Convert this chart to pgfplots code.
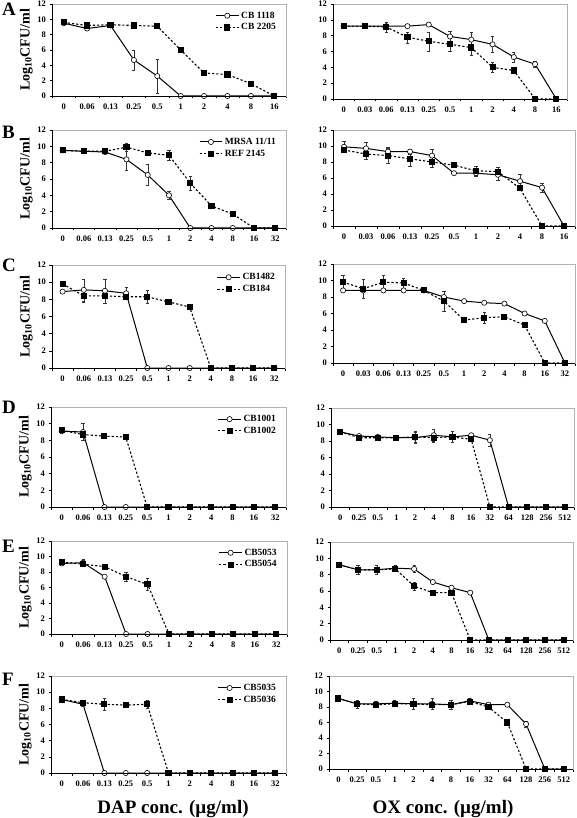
\documentclass[border=0pt]{standalone}
\usepackage{fontspec}
\setmainfont{Liberation Serif}
\usepackage{pgfplots}
\usepackage{pgfplotstable}
\pgfplotsset{compat=1.18}

\pgfplotstableread{
c ce s se
9.5 0 9.6 0
8.8 0.2 9.2 0
9.2 0 9.3 0
4.7 1.3 9.2 0
2.6 2.2 9.1 0
0 0 6.0 0
0 0 3.0 0
0 0 2.8 0
0 0 1.6 0
0 0 0 0
}\tAL
\pgfplotstableread{
c ce s se
9.2 0.2 9.2 0.2
9.2 0.2 9.2 0.2
9.2 0.3 9.1 0.6
9.2 0 7.8 0.7
9.4 0 7.3 1.2
7.9 0.7 6.9 0.9
7.5 0.9 6.5 1.0
6.9 1.0 4.0 0.6
5.3 0.6 3.6 0
4.4 0.4 0 0
0 0 0 0
}\tAR
\pgfplotstableread{
c ce s se
9.5 0 9.5 0
9.4 0 9.4 0
9.3 0 9.4 0
8.4 1.3 9.9 0.5
6.5 1.3 9.2 0
4.0 0.5 8.9 0.6
0 0 5.5 0.9
0 0 2.7 0
0 0 1.7 0
0 0 0 0
0 0 0 0
}\tBL
\pgfplotstableread{
c ce s se
9.9 0.7 9.5 0
9.7 0.8 9.0 0.6
9.3 0.4 8.8 1.0
9.3 0.3 8.4 0.9
8.8 0.8 8.0 0.6
6.6 0 7.6 0
6.6 0.4 6.9 0.6
6.4 0.7 6.8 0.6
5.6 0.9 4.7 0
4.8 0.6 0 0
0 0 0 0
}\tBR
\pgfplotstableread{
c ce s se
8.9 0 9.8 0
9.1 1.3 8.4 0.7
9.0 1.4 8.4 0.8
8.7 0.7 8.3 0
0 0 8.3 0.8
0 0 7.7 0
0 0 7.1 0
0 0 0 0
0 0 0 0
0 0 0 0
0 0 0 0
}\tCL
\pgfplotstableread{
c ce s se
8.8 0 9.8 0.8
8.8 0 9.0 1.1
8.8 0 9.8 0.8
8.8 0 9.7 0.6
8.8 0 8.8 0
8.0 0.7 7.5 1.2
7.5 0 5.2 0
7.3 0 5.5 0.7
7.2 0 5.6 0
6.0 0 4.6 0
5.1 0 0 0
0 0 0 0
}\tCR
\pgfplotstableread{
c ce s se
9.1 0 9.2 0
9.0 1.0 8.7 0
0 0 8.5 0
0 0 8.4 0
0 0 0 0
0 0 0 0
0 0 0 0
0 0 0 0
0 0 0 0
0 0 0 0
0 0 0 0
}\tDL
\pgfplotstableread{
c ce s se
9.1 0 9.1 0
8.6 0 8.4 0
8.5 0 8.4 0
8.4 0 8.4 0
8.4 0.7 8.5 0.7
8.7 0.7 8.4 0.6
8.5 0.7 8.5 0.7
8.7 0 8.2 0
8.1 0.7 0 0
0 0 0 0
0 0 0 0
0 0 0 0
0 0 0 0
}\tDR
\pgfplotstableread{
c ce s se
9.1 0 9.3 0
9.2 0.5 9.0 0
7.4 0 8.7 0
0 0 7.4 0.6
0 0 6.4 0.8
0 0 0 0
0 0 0 0
0 0 0 0
0 0 0 0
0 0 0 0
0 0 0 0
}\tEL
\pgfplotstableread{
c ce s se
9.2 0 9.2 0
8.6 0.5 8.6 0
8.6 0.5 8.6 0
8.8 0.4 8.7 0
8.7 0.4 6.6 0.5
7.1 0 5.8 0
6.4 0 5.8 0
5.8 0 0 0
0 0 0 0
0 0 0 0
0 0 0 0
0 0 0 0
0 0 0 0
}\tER
\pgfplotstableread{
c ce s se
9.1 0 9.1 0
8.5 0 8.7 0
0 0 8.5 0.7
0 0 8.4 0
0 0 8.5 0.5
0 0 0 0
0 0 0 0
0 0 0 0
0 0 0 0
0 0 0 0
0 0 0 0
}\tFL
\pgfplotstableread{
c ce s se
9.1 0 9.1 0
8.4 0.5 8.4 0
8.4 0.4 8.3 0
8.5 0.4 8.4 0
8.4 0.7 8.4 0
8.4 0.7 8.3 0
8.3 0.6 8.3 0
8.8 0.4 8.7 0
8.3 0 8.0 0
8.3 0 6.0 0
5.8 0.4 0 0
0 0 0 0
0 0 0 0
}\tFR

\pgfplotsset{
  panel/.style={
    scale only axis, anchor=north west,
    ymin=0, ymax=12, ytick={0,2,4,6,8,10,12},
    axis line style={draw=gray!60, line width=0.5pt},
    tick align=outside, xtick pos=left, ytick pos=left,
    major tick length=2.5pt,
    every tick/.style={black, line width=0.5pt},
    x tick label as interval,
    ticklabel style={font=\bfseries\fontsize{8.5}{9}\selectfont},
    /pgf/number format/assume math mode=true,
    xticklabel style={yshift=-2pt},
    legend style={draw=none, fill=none, font=\bfseries\fontsize{9.5}{10}\selectfont,
      at={(0.97,0.95)}, anchor=north east, row sep=0pt, inner sep=1pt},
    legend cell align=left,
    legend image code/.code={
      \draw[##1] (0cm,0cm) -- (0.8cm,0cm);
      \draw[##1,mark repeat=2,mark phase=2] plot coordinates {(0cm,0cm) (0.4cm,0cm) (0.8cm,0cm)};},
    error bars/y dir=both, error bars/y explicit,
    error bars/error bar style={black!80, line width=0.4pt, solid},
    error bars/error mark options={rotate=90, mark size=1.6pt, black!80, line width=0.4pt, solid},
    after end axis/.code={\draw[black, line width=0.6pt] (rel axis cs:0,1) -- (rel axis cs:0,0) -- (rel axis cs:1,0);},
  },
  yl/.style={ylabel={Log\textsubscript{10}CFU/ml},
    ylabel style={font=\bfseries\fontsize{14}{15}\selectfont, yshift=-2pt}},
  n10/.style={xmin=-0.5, xmax=9.5, xtick={-0.5,0.5,...,9.5},
    xticklabels={0,0.06,0.13,0.25,0.5,1,2,4,8,16}},
  n11d/.style={xmin=-0.5, xmax=10.5, xtick={-0.5,0.5,...,10.5},
    xticklabels={0,0.06,0.13,0.25,0.5,1,2,4,8,16,32}},
  n11o/.style={xmin=-0.5, xmax=10.5, xtick={-0.5,0.5,...,10.5},
    xticklabels={0,0.03,0.06,0.13,0.25,0.5,1,2,4,8,16}},
  n12o/.style={xmin=-0.5, xmax=11.5, xtick={-0.5,0.5,...,11.5},
    xticklabels={0,0.03,0.06,0.13,0.25,0.5,1,2,4,8,16,32}},
  n13o/.style={xmin=-0.5, xmax=12.5, xtick={-0.5,0.5,...,12.5},
    xticklabels={0,0.25,0.5,1,2,4,8,16,32,64,128,256,512}},
  circ/.style={black, line width=1pt, mark=*, mark size=2.6pt,
    mark options={fill=white, solid, line width=0.6pt}},
  sq/.style={black, line width=1.1pt, dash pattern=on 2.2pt off 2pt, mark=square*, mark size=2.5pt,
    mark options={fill=black, solid}},
}

\newcommand{\pair}[1]{%
  \addplot[circ] table[x expr=\coordindex, y=c, y error=ce] {#1};
  \addplot[sq] table[x expr=\coordindex, y=s, y error=se] {#1};}

\begin{document}
\begin{tikzpicture}[x=1pt,y=1pt]
\path[use as bounding box] (0,0) rectangle (576,-818);

% Row A
\begin{axis}[panel, yl, n10, at={(52pt,-4pt)}, width=234pt, height=92pt]
\pair{\tAL}
\legend{CB 1118, CB 2205}
\end{axis}
\begin{axis}[panel, n11o, at={(333pt,-4pt)}, width=234pt, height=95pt]
\pair{\tAR}
\end{axis}
% Row B
\begin{axis}[panel, yl, n11d, at={(52pt,-130pt)}, width=234pt, height=98pt]
\pair{\tBL}
\legend{MRSA 11/11, REF 2145}
\end{axis}
\begin{axis}[panel, n11o, at={(333pt,-130pt)}, width=242pt, height=96pt]
\pair{\tBR}
\end{axis}
% Row C
\begin{axis}[panel, yl, n11d, at={(52pt,-265pt)}, width=233pt, height=103pt]
\pair{\tCL}
\legend{CB1482, CB184}
\end{axis}
\begin{axis}[panel, n12o, at={(333pt,-264pt)}, width=242pt, height=99pt]
\pair{\tCR}
\end{axis}
% Row D
\begin{axis}[panel, yl, n11d, at={(51pt,-407pt)}, width=235pt, height=100pt]
\pair{\tDL}
\legend{CB1001, CB1002}
\end{axis}
\begin{axis}[panel, n13o, at={(331pt,-408pt)}, width=243pt, height=99pt]
\pair{\tDR}
\end{axis}
% Row E
\begin{axis}[panel, yl, n11d, at={(51pt,-541pt)}, width=236pt, height=93pt]
\pair{\tEL}
\legend{CB5053, CB5054}
\end{axis}
\begin{axis}[panel, n13o, at={(330pt,-542pt)}, width=243pt, height=98pt]
\pair{\tER}
\end{axis}
% Row F
\begin{axis}[panel, yl, n11d, at={(51pt,-676pt)}, width=235pt, height=97pt]
\pair{\tFL}
\legend{CB5035, CB5036}
\end{axis}
\begin{axis}[panel, n13o, at={(329pt,-676pt)}, width=244pt, height=93pt]
\pair{\tFR}
\end{axis}

% panel letters
\foreach \L/\yy in {A/3,B/126,C/259,D/401,E/540,F/673}{
  \node[anchor=north west, inner sep=0pt, font=\bfseries\fontsize{19}{20}\selectfont] at (2,-\yy) {\L};
}
% bottom titles
\node[anchor=base, inner sep=0pt, font=\bfseries\fontsize{19}{20}\selectfont] at (173,-813) {DAP conc. (µg/ml)};
\node[anchor=base, inner sep=0pt, font=\bfseries\fontsize{19}{20}\selectfont] at (443,-813) {OX conc. (µg/ml)};
\end{tikzpicture}
\end{document}
